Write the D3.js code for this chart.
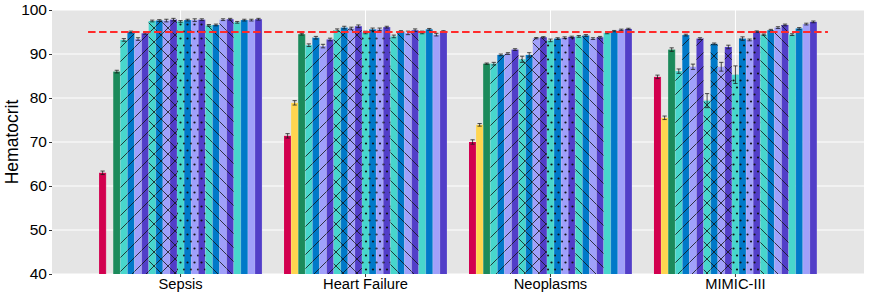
<!DOCTYPE html>
<html><head><meta charset="utf-8">
<script src="https://cdn.jsdelivr.net/npm/d3@7"></script>
<style>body{margin:0;background:#fff;}svg{display:block;font-family:"Liberation Sans",Arial,sans-serif;}</style>
</head><body>
<svg id="chart" width="872" height="296"></svg>
<script>
const categories = ["Sepsis", "Heart Failure", "Neoplasms", "MIMIC-III"];
const series = ["Baseline", "Reference", "Method",
  "A-1", "A-2", "A-3", "A-4",
  "B-1", "B-2", "B-3", "B-4",
  "C-1", "C-2", "C-3", "C-4",
  "D-1", "D-2", "D-3", "D-4",
  "E-1", "E-2", "E-3", "E-4"];
const sepsisValues = [63.0, null, 86.0, 93.2, 95.0, 93.4, 94.7, 97.5, 97.6, 97.6, 97.8, 97.4, 97.7, 97.7, 97.8, 96.5, 96.6, 97.8, 97.9, 97.2, 97.7, 97.7, 97.9];
const sepsisErrors = [0.4, null, 0.3, 0.3, 0.2, 0.3, 0.2, 0.2, 0.2, 0.3, 0.3, 0.2, 0.2, 0.3, 0.2, 0.2, 0.2, 0.2, 0.2, 0.2, 0.2, 0.2, 0.2];
const heartFailureValues = [71.4, 78.9, 94.5, 92.0, 93.7, 91.8, 93.3, 95.4, 96.0, 95.8, 96.3, 94.9, 95.6, 95.6, 96.1, 94.0, 95.1, 94.8, 95.4, 94.9, 95.6, 94.4, 95.1];
const heartFailureErrors = [0.5, 0.5, 0.2, 0.3, 0.3, 0.4, 0.3, 0.3, 0.3, 0.3, 0.3, 0.3, 0.3, 0.3, 0.2, 0.3, 0.2, 0.4, 0.3, 0.3, 0.2, 0.3, 0.2];
const neoplasmsValues = [70.0, 73.9, 87.8, 87.8, 89.8, 90.1, 91.0, 88.8, 89.8, 93.6, 93.8, 93.1, 93.5, 93.7, 93.9, 94.0, 94.2, 93.5, 93.8, 94.8, 95.2, 95.5, 95.7];
const neoplasmsErrors = [0.5, 0.3, 0.15, 0.3, 0.2, 0.2, 0.2, 0.7, 0.5, 0.15, 0.15, 0.3, 0.2, 0.2, 0.15, 0.2, 0.2, 0.2, 0.2, 0.2, 0.15, 0.15, 0.15];
const mimicValues = [84.8, 75.5, 91.0, 86.1, 94.3, 87.1, 93.5, 79.4, 92.3, 87.1, 91.6, 85.3, 93.5, 93.2, 95.1, 94.4, 95.4, 96.0, 96.6, 94.4, 95.8, 96.8, 97.3];
const mimicErrors = [0.4, 0.4, 0.4, 0.5, 0.2, 0.6, 0.2, 1.6, 0.2, 1.0, 0.4, 2.0, 0.4, 0.2, 0.15, 0.15, 0.2, 0.2, 0.2, 0.2, 0.2, 0.2, 0.2];
const yTicks = [40, 50, 60, 70, 80, 90, 100];
const threshold = 95;

const valuesByCategory = [sepsisValues, heartFailureValues, neoplasmsValues, mimicValues];
const errorsByCategory = [sepsisErrors, heartFailureErrors, neoplasmsErrors, mimicErrors];

// styles
const baseColors = ["#D2004F", "#FFD54F", "#1B8A5B"];
const cycleColors = ["#48D6CC", "#0079C8", "#A0A0FA", "#523EC8"];
const cyclePatterns = ["stripe", "cross", "dot", "back", "none"];
const colorOf = i => i < 3 ? baseColors[i] : cycleColors[(i - 3) % 4];
const patternOf = i => i < 3 ? "none" : cyclePatterns[Math.floor((i - 3) / 4)];

const svg = d3.select("#chart");
const margin = {left: 52, right: 8, top: 10, bottom: 22};
const W = 872, H = 296;
const x0 = d3.scaleBand().domain(categories).range([margin.left, W - margin.right]).paddingInner(0).paddingOuter(0.195);
const bw = x0.bandwidth();
const x1 = d3.scaleBand().domain(series).range([bw * 0.0595, bw * (1 - 0.0595)]).paddingInner(0);
const y = d3.scaleLinear().domain([40, 100]).range([H - margin.bottom, margin.top]);

// patterns
const defs = svg.append("defs");
const T = 14;
function linePattern(id, dir) {
  const p = defs.append("pattern").attr("id", id).attr("patternUnits", "userSpaceOnUse")
    .attr("width", T).attr("height", T);
  const g = p.append("g").attr("stroke", "#111").attr("stroke-width", 0.8);
  if (dir === "stripe" || dir === "cross") {
    g.append("line").attr("x1", 0).attr("y1", T).attr("x2", T).attr("y2", 0);
    g.append("line").attr("x1", -1).attr("y1", 1).attr("x2", 1).attr("y2", -1);
    g.append("line").attr("x1", T - 1).attr("y1", T + 1).attr("x2", T + 1).attr("y2", T - 1);
  }
  if (dir === "back" || dir === "cross") {
    g.append("line").attr("x1", 0).attr("y1", 0).attr("x2", T).attr("y2", T);
    g.append("line").attr("x1", T - 1).attr("y1", -1).attr("x2", T + 1).attr("y2", 1);
    g.append("line").attr("x1", -1).attr("y1", T - 1).attr("x2", 1).attr("y2", T + 1);
  }
}
linePattern("pat-stripe", "stripe");
linePattern("pat-cross", "cross");
linePattern("pat-back", "back");
const dp = defs.append("pattern").attr("id", "pat-dot").attr("patternUnits", "userSpaceOnUse")
  .attr("width", 7).attr("height", 14);
dp.append("circle").attr("cx", 2).attr("cy", 3.5).attr("r", 1.1).attr("fill", "#111");
dp.append("circle").attr("cx", 5.5).attr("cy", 10.5).attr("r", 1.1).attr("fill", "#111");

// panel
svg.append("rect").attr("x", margin.left).attr("y", margin.top)
  .attr("width", W - margin.left - margin.right).attr("height", H - margin.top - margin.bottom)
  .attr("fill", "#E5E5E5");
svg.append("g").selectAll("line").data(yTicks).join("line")
  .attr("x1", margin.left).attr("x2", W - margin.right)
  .attr("y1", d => y(d)).attr("y2", d => y(d))
  .attr("stroke", "#fff").attr("stroke-width", 1);
svg.append("g").selectAll("line").data(categories).join("line")
  .attr("x1", d => x0(d) + bw / 2).attr("x2", d => x0(d) + bw / 2)
  .attr("y1", margin.top).attr("y2", H - margin.bottom)
  .attr("stroke", "#fff").attr("stroke-width", 1);

// bars
const rows = [];
categories.forEach((c, ci) => {
  series.forEach((s, si) => {
    const v = valuesByCategory[ci][si];
    if (v == null) return;
    rows.push({c, s, si, v, e: errorsByCategory[ci][si]});
  });
});
const barW = x1.bandwidth();
const gBars = svg.append("g");
gBars.selectAll("rect.bar").data(rows).join("rect").attr("class", "bar")
  .attr("x", d => x0(d.c) + x1(d.s)).attr("width", barW)
  .attr("y", d => y(d.v)).attr("height", d => y(40) - y(d.v))
  .attr("fill", d => colorOf(d.si));
gBars.selectAll("rect.pat").data(rows.filter(d => patternOf(d.si) !== "none")).join("rect").attr("class", "pat")
  .attr("x", d => x0(d.c) + x1(d.s)).attr("width", barW)
  .attr("y", d => y(d.v)).attr("height", d => y(40) - y(d.v))
  .attr("fill", d => `url(#pat-${patternOf(d.si)})`);
gBars.selectAll("line.sep").data(rows).join("line").attr("class", "sep")
  .attr("x1", d => x0(d.c) + x1(d.s) + barW).attr("x2", d => x0(d.c) + x1(d.s) + barW)
  .attr("y1", d => y(d.v)).attr("y2", y(40))
  .attr("stroke", "#fff").attr("stroke-opacity", 0.35).attr("stroke-width", 0.5);

// error bars
const gErr = svg.append("g").attr("stroke", "#1a1a1a").attr("stroke-width", 0.9).attr("stroke-opacity", 0.85);
const cap = barW * 0.3;
rows.forEach(d => {
  const cx = x0(d.c) + x1(d.s) + barW / 2;
  gErr.append("line").attr("x1", cx).attr("x2", cx).attr("y1", y(d.v - d.e)).attr("y2", y(d.v + d.e));
  gErr.append("line").attr("x1", cx - cap).attr("x2", cx + cap).attr("y1", y(d.v - d.e)).attr("y2", y(d.v - d.e));
  gErr.append("line").attr("x1", cx - cap).attr("x2", cx + cap).attr("y1", y(d.v + d.e)).attr("y2", y(d.v + d.e));
});

// threshold
svg.append("line")
  .attr("x1", x0(categories[0])).attr("x2", x0(categories[categories.length - 1]) + bw)
  .attr("y1", y(threshold)).attr("y2", y(threshold))
  .attr("stroke", "#FF2A2A").attr("stroke-width", 2.2).attr("stroke-dasharray", "7.5,3.5");

// axes
const yAxis = d3.axisLeft(y).tickValues(yTicks).tickSize(3).tickPadding(2);
const gy = svg.append("g").attr("transform", `translate(${margin.left},0)`).call(yAxis);
gy.select(".domain").remove();
gy.selectAll(".tick line").attr("stroke", "#333");
gy.selectAll(".tick text").attr("fill", "#000").style("font-size", "15.5px").style("font-family", "Liberation Sans, Arial, sans-serif");

const xAxis = d3.axisBottom(x0).tickSize(3).tickPadding(2);
const gx = svg.append("g").attr("transform", `translate(0,${H - margin.bottom})`).call(xAxis);
gx.select(".domain").remove();
gx.selectAll(".tick line").attr("stroke", "#333");
gx.selectAll(".tick text").attr("fill", "#000").style("font-size", "14.7px").style("font-family", "Liberation Sans, Arial, sans-serif");

svg.append("text").attr("transform", `translate(18,${(margin.top + H - margin.bottom) / 2}) rotate(-90)`)
  .attr("text-anchor", "middle").style("font-size", "17.5px").attr("fill", "#000").text("Hematocrit");
</script>
</body></html>
